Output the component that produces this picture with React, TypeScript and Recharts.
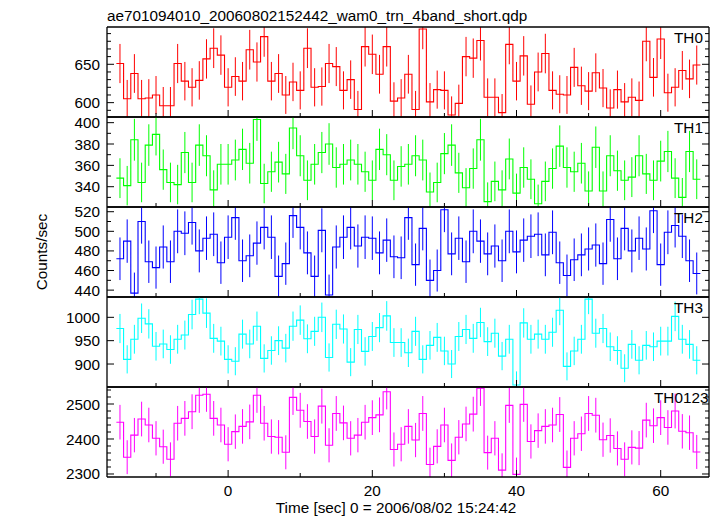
import React from 'react';
import { ComposedChart, Line, Scatter, ErrorBar, XAxis, YAxis } from 'recharts';

// ---------- data (1-s bins, first bin centred at t = -15 s) ----------
const FIRST_BIN_CENTER = -15;
const BIN_WIDTH = 1;

const TH0 = [
  651, 605, 638, 605, 606, 610, 596, 596, 651, 628,
  620, 629, 657, 671, 662, 620, 634, 628, 669, 653,
  686, 628, 638, 610, 627, 616, 671, 620, 621, 651,
  647, 616, 630, 591, 673, 663, 637, 673, 602, 606,
  637, 591, 696, 601, 617, 616, 584, 599, 660, 658,
  681, 607, 607, 587, 676, 628, 661, 598, 640, 664,
  616, 611, 610, 646, 622, 615, 639, 619, 593, 617,
  601, 607, 603, 680, 633, 683, 613, 620, 642, 631,
  649,
];
const TH1 = [
  348, 341, 384, 344, 379, 389, 356, 344, 342, 372,
  344, 379, 369, 337, 361, 361, 365, 375, 362, 403,
  343, 354, 363, 352, 395, 369, 346, 361, 372, 380,
  358, 361, 365, 361, 354, 346, 375, 370, 346, 359,
  361, 369, 365, 335, 344, 371, 379, 353, 339, 357,
  384, 326, 345, 337, 366, 334, 358, 347, 324, 345,
  357, 378, 358, 354, 362, 336, 377, 336, 369, 355,
  346, 349, 369, 352, 346, 364, 373, 348, 330, 373,
  347,
];
const TH2 = [
  472, 490, 437, 510, 469, 463, 484, 469, 500, 498,
  509, 480, 493, 497, 468, 494, 514, 470, 475, 488,
  504, 494, 454, 467, 516, 504, 478, 454, 501, 435,
  484, 494, 504, 485, 494, 493, 478, 491, 474, 473,
  514, 466, 503, 450, 460, 522, 477, 493, 469, 500,
  490, 477, 485, 470, 500, 479, 491, 495, 497, 476,
  499, 468, 455, 471, 476, 482, 486, 467, 512, 472,
  503, 480, 493, 482, 521, 466, 499, 506, 495, 470,
  457,
];
const TH3 = [
  976, 910, 953, 998, 986, 938, 943, 931, 953, 962,
  1006, 1039, 1009, 955, 949, 910, 906, 964, 943, 981,
  912, 929, 950, 934, 981, 994, 954, 970, 1000, 914,
  985, 975, 904, 974, 927, 959, 978, 1003, 946, 946,
  924, 970, 910, 940, 957, 928, 900, 959, 974, 955,
  989, 948, 966, 917, 953, 855, 988, 953, 964, 953,
  968, 1015, 895, 928, 953, 1039, 966, 976, 937, 929,
  891, 942, 908, 940, 937, 949, 949, 1002, 953, 942,
  908,
];
const TH0123 = [
  2448, 2348, 2411, 2457, 2440, 2402, 2378, 2342, 2445, 2459,
  2478, 2525, 2528, 2459, 2440, 2385, 2421, 2436, 2449, 2525,
  2445, 2407, 2405, 2362, 2519, 2482, 2450, 2407, 2494, 2382,
  2473, 2446, 2402, 2411, 2448, 2461, 2469, 2535, 2370, 2385,
  2436, 2397, 2473, 2327, 2379, 2440, 2339, 2405, 2443, 2471,
  2545, 2361, 2402, 2311, 2496, 2299, 2499, 2393, 2424, 2436,
  2440, 2470, 2319, 2402, 2415, 2473, 2468, 2398, 2410, 2373,
  2342, 2376, 2374, 2454, 2438, 2461, 2433, 2480, 2422, 2418,
  2363,
];

// ---------- axes ----------
const X_DOMAIN: [number, number] = [-16.8, 66.7];
const X_MAJOR = [0, 20, 40, 60];
const X_MINOR = [-10, 10, 30, 50];

const TH0_DOMAIN: [number, number] = [581.3, 698.6];
const TH0_MAJOR = [600, 650];
const TH0_MINOR = [590, 610, 620, 630, 640, 660, 670, 680, 690];

const TH1_DOMAIN: [number, number] = [321, 405.3];
const TH1_MAJOR = [340, 360, 380, 400];
const TH1_MINOR = [330, 350, 370, 390];

const TH2_DOMAIN: [number, number] = [433, 524.8];
const TH2_MAJOR = [440, 460, 480, 500, 520];
const TH2_MINOR = [450, 470, 490, 510];

const TH3_DOMAIN: [number, number] = [850.8, 1043.5];
const TH3_MAJOR = [900, 950, 1000];
const TH3_MINOR: number[] = [];

const TH0123_DOMAIN: [number, number] = [2291.4, 2548.6];
const TH0123_MAJOR = [2300, 2400, 2500];
const TH0123_MINOR = [2320, 2340, 2360, 2380, 2420, 2440, 2460, 2480, 2520, 2540];

const TITLE = 'ae701094010_20060802152442_wam0_trn_4band_short.qdp';
const X_TITLE = 'Time [sec] 0 = 2006/08/02 15:24:42';
const Y_TITLE = 'Counts/sec';

// ---------- layout ----------
const W = 717;
const H = 516;
const PLOT_LEFT = 107;
const PLOT_RIGHT = 709;
const PLOT_TOP = 27;
const PANEL_H = 90;
const FONT = '"Liberation Sans", Arial, Helvetica, sans-serif';
const FS = 15.3;
const MAJOR_LEN = 7;
const MINOR_LEN = 4;

type Panel = {
  name: string;
  values: number[];
  color: string;
  domain: [number, number];
  major: number[];
  minor: number[];
  labelX: number;
};

const PANELS: Panel[] = [
  { name: 'TH0', values: TH0, color: '#ff0000', domain: TH0_DOMAIN, major: TH0_MAJOR, minor: TH0_MINOR, labelX: 674 },
  { name: 'TH1', values: TH1, color: '#00ff00', domain: TH1_DOMAIN, major: TH1_MAJOR, minor: TH1_MINOR, labelX: 674 },
  { name: 'TH2', values: TH2, color: '#0000ff', domain: TH2_DOMAIN, major: TH2_MAJOR, minor: TH2_MINOR, labelX: 674 },
  { name: 'TH3', values: TH3, color: '#00ffff', domain: TH3_DOMAIN, major: TH3_MAJOR, minor: TH3_MINOR, labelX: 674 },
  { name: 'TH0123', values: TH0123, color: '#ff00ff', domain: TH0123_DOMAIN, major: TH0123_MAJOR, minor: TH0123_MINOR, labelX: 654 },
];

function centers(values: number[], domain: [number, number]) {
  // Poisson error of each 1-s bin, cut at the panel frame
  return values.map((v, i) => {
    const err = Math.sqrt(v * BIN_WIDTH) / BIN_WIDTH;
    return {
      x: FIRST_BIN_CENTER + i * BIN_WIDTH,
      v,
      e: [Math.max(0, Math.min(err, v - domain[0])), Math.max(0, Math.min(err, domain[1] - v))],
    };
  });
}
function edges(values: number[]) {
  const pts = values.map((v, i) => ({ x: FIRST_BIN_CENTER + (i - 0.5) * BIN_WIDTH, v }));
  pts.push({ x: FIRST_BIN_CENTER + (values.length - 0.5) * BIN_WIDTH, v: values[values.length - 1] });
  return pts;
}

const frame = { stroke: '#000', strokeWidth: 1.3 };

type Side = 'left' | 'right' | 'top' | 'bottom';
function makeTick(side: Side, major: number[], labels: number[] | null) {
  return (props: any) => {
    const { x, y, payload } = props;
    const v = payload.value as number;
    const len = major.includes(v) ? MAJOR_LEN : MINOR_LEN;
    let x2 = x;
    let y2 = y;
    if (side === 'left') x2 = x + len;
    else if (side === 'right') x2 = x - len;
    else if (side === 'bottom') y2 = y - len;
    else y2 = y + len;
    const showLabel = labels !== null && labels.includes(v);
    return (
      <g>
        <line x1={x} y1={y} x2={x2} y2={y2} stroke="#000" strokeWidth={1} />
        {showLabel && side === 'left' && (
          <text x={x - 7} y={y} dy="0.36em" textAnchor="end" fontFamily={FONT} fontSize={FS} fill="#000">{v}</text>
        )}
        {showLabel && side === 'bottom' && (
          <text x={x} y={y + 18.5} textAnchor="middle" fontFamily={FONT} fontSize={FS} fill="#000">{v}</text>
        )}
      </g>
    );
  };
}

const X_ALL = [...X_MAJOR, ...X_MINOR].sort((a, b) => a - b);

function renderAxes(p: Panel, bottom: boolean) {
  const yAll = [...p.major, ...p.minor].sort((a, b) => a - b);
  const common = { allowDataOverflow: true, interval: 0 as const, tickSize: 0, tickMargin: 0, tickLine: false, axisLine: frame };
  return [
    <XAxis key="xb" xAxisId="b" type="number" dataKey="x" domain={X_DOMAIN} ticks={X_ALL} height={1} {...common}
      tick={makeTick('bottom', X_MAJOR, bottom ? X_MAJOR : null)} />,
    <XAxis key="xt" xAxisId="t" orientation="top" type="number" domain={X_DOMAIN} ticks={X_ALL} height={1} {...common}
      tick={makeTick('top', X_MAJOR, null)} />,
    <YAxis key="yl" yAxisId="l" type="number" domain={p.domain} ticks={yAll} width={1} {...common}
      tick={makeTick('left', p.major, p.major)} />,
    <YAxis key="yr" yAxisId="r" orientation="right" type="number" domain={p.domain} ticks={yAll} width={1} {...common}
      tick={makeTick('right', p.major, null)} />,
  ];
}

const NoDot = () => <g />;

function PanelChart({ p, index }: { p: Panel; index: number }) {
  const top = PLOT_TOP + index * PANEL_H;
  const bottom = top + PANEL_H;
  const isBottom = index === PANELS.length - 1;
  return (
    <div style={{ position: 'absolute', left: 0, top: 0, width: W, height: H }}>
      <ComposedChart width={W} height={H}
        margin={{ top: top - 1, bottom: H - bottom - 1, left: PLOT_LEFT - 1, right: W - PLOT_RIGHT - 1 }}>
        {renderAxes(p, isBottom)}
        <Line xAxisId="b" yAxisId="l" data={edges(p.values)} dataKey="v" type="stepAfter" stroke={p.color}
          strokeWidth={1.1} dot={false} activeDot={false} isAnimationActive={false} />
        <Scatter xAxisId="b" yAxisId="l" data={centers(p.values, p.domain)} dataKey="v" shape={NoDot} isAnimationActive={false}>
          <ErrorBar dataKey="e" direction="y" width={0} stroke={p.color} strokeWidth={1} isAnimationActive={false} />
        </Scatter>
      </ComposedChart>
    </div>
  );
}

export default function App() {
  return (
    <div style={{ position: 'absolute', left: 0, top: 0, width: W, height: H, background: '#fff', overflow: 'hidden' }}>
      {PANELS.map((p, i) => (
        <PanelChart key={p.name} p={p} index={i} />
      ))}
      <svg width={W} height={H} style={{ position: 'absolute', left: 0, top: 0, pointerEvents: 'none' }}>
        <text x={PLOT_LEFT} y={20.5} fontFamily={FONT} fontSize={FS} fill="#000">{TITLE}</text>
        {PANELS.map((p, i) => (
          <text key={p.name} x={p.labelX} y={PLOT_TOP + i * PANEL_H + 15.7} fontFamily={FONT} fontSize={FS} fill="#000">{p.name}</text>
        ))}
        <text x={396} y={513} textAnchor="middle" fontFamily={FONT} fontSize={FS} fill="#000">{X_TITLE}</text>
        <text transform="translate(47,252) rotate(-90)" textAnchor="middle" fontFamily={FONT} fontSize={FS} fill="#000">{Y_TITLE}</text>
      </svg>
    </div>
  );
}
